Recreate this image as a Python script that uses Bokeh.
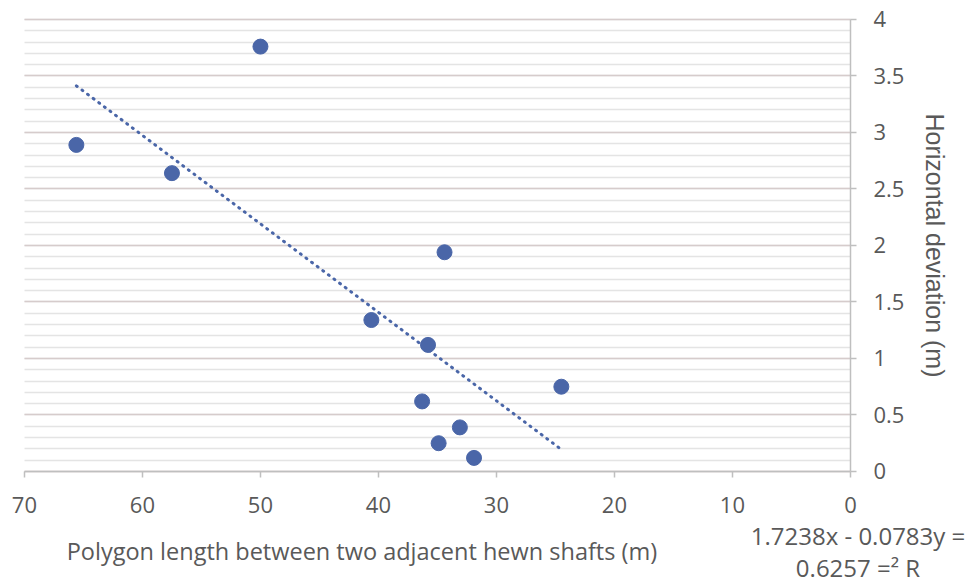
from bokeh.plotting import figure
from bokeh.models import (ColumnDataSource, Range1d, Label, LinearAxis, Grid,
                          FixedTicker, SingleIntervalTicker)
from bokeh.embed import file_html
from bokeh.resources import INLINE

# Data
polygon_length = [50.0, 65.6, 57.5, 34.4, 40.6, 35.8, 24.5, 36.3, 33.1, 34.9, 31.9]
horizontal_dev = [3.76, 2.89, 2.64, 1.94, 1.34, 1.12, 0.75, 0.62, 0.39, 0.25, 0.12]

# linear trend coefficients (as printed on the chart)
slope = 0.0783
intercept = -1.7238
equation_text = "1.7238x - 0.0783y ="
r2_text = "0.6257 =\u00b2 R"

x_ticks = [0, 10, 20, 30, 40, 50, 60, 70]
y_ticks = [0, 0.5, 1, 1.5, 2, 2.5, 3, 3.5, 4]

FONT = "Open Sans"
TEXT_COLOR = "#595959"
DOT_COLOR = "#4A66A8"
AXIS_COLOR = "#bfbfbf"

source = ColumnDataSource(data=dict(x=polygon_length, y=horizontal_dev))

trend_x = [max(polygon_length), min(polygon_length)]
trend_y = [slope * v + intercept for v in trend_x]
trend = ColumnDataSource(data=dict(x=trend_x, y=trend_y))

# the frame fills the whole canvas so that the texts below the axis are not clipped;
# the axes sit at x=0 / y=0 inside it
p = figure(width=967, height=587, output_backend="svg", toolbar_location=None,
           x_range=Range1d(72.03, -9.92), y_range=Range1d(-1.027, 4.168),
           x_axis_location=None, y_axis_location=None, min_border=0)
p.outline_line_color = None
p.grid.visible = False

xaxis = LinearAxis(fixed_location=0, bounds=(0, 70), ticker=FixedTicker(ticks=x_ticks))
yaxis = LinearAxis(fixed_location=0, bounds=(0, 4), ticker=FixedTicker(ticks=y_ticks),
                   axis_label="Horizontal deviation (m)")
yaxis.major_label_overrides = {0: "0", 1: "1", 2: "2", 3: "3", 4: "4"}
for ax in (xaxis, yaxis):
    ax.axis_line_color = AXIS_COLOR
    ax.axis_line_width = 1.5
    ax.major_tick_line_color = AXIS_COLOR
    ax.major_tick_line_width = 1.5
    ax.major_tick_out = 6
    ax.major_tick_in = 0
    ax.minor_tick_line_color = None
    ax.major_label_text_font = FONT
    ax.major_label_text_font_size = "22px"
    ax.major_label_text_color = TEXT_COLOR
xaxis.major_label_standoff = 20
yaxis.major_label_standoff = 17
yaxis.axis_label_text_font = "Liberation Sans"
yaxis.axis_label_text_font_size = "25px"
yaxis.axis_label_text_font_style = "normal"
yaxis.axis_label_text_color = TEXT_COLOR
yaxis.axis_label_standoff = 14
p.add_layout(xaxis, "below")
p.add_layout(yaxis, "right")

# horizontal gridlines: major every 0.5, minor every 0.1, only between x=0 and 70
ygrid = Grid(dimension=1, ticker=SingleIntervalTicker(interval=0.5, num_minor_ticks=5),
             bounds=(0, 4))
ygrid.grid_line_color = "#d6cccc"
ygrid.grid_line_width = 1.5
ygrid.minor_grid_line_color = "#e4e4e4"
ygrid.minor_grid_line_width = 1.5
if "cross_bounds" in Grid.properties():
    ygrid.cross_bounds = (0, 70)
    p.add_layout(ygrid, "center")
else:
    minor_y = [i / 10 for i in range(1, 41) if i % 5]
    p.segment(x0=0, x1=70, y0=minor_y, y1=minor_y, line_color="#e4e4e4", line_width=1.5)
    p.segment(x0=0, x1=70, y0=y_ticks, y1=y_ticks, line_color="#d6cccc", line_width=1.5)

p.line("x", "y", source=trend, line_color=DOT_COLOR, line_width=3,
       line_dash="1 6", line_cap="round")
p.scatter("x", "y", source=source, size=15, marker="circle",
          fill_color=DOT_COLOR, line_color=DOT_COLOR)

# x axis title (offset to the left as in the original) and trend equation
p.add_layout(Label(x=41.4, y=-0.70, text="Polygon length between two adjacent hewn shafts (m)",
                   text_font=FONT, text_font_size="23.5px", text_color=TEXT_COLOR,
                   text_align="center", text_baseline="middle"))
p.add_layout(Label(x=-0.64, y=-0.57, text=equation_text,
                   text_font=FONT, text_font_size="24px", text_color=TEXT_COLOR,
                   text_align="center", text_baseline="middle"))
p.add_layout(Label(x=-0.64, y=-0.85, text=r2_text,
                   text_font=FONT, text_font_size="24px", text_color=TEXT_COLOR,
                   text_align="center", text_baseline="middle"))

open("out.html", "w").write(file_html(p, INLINE))
